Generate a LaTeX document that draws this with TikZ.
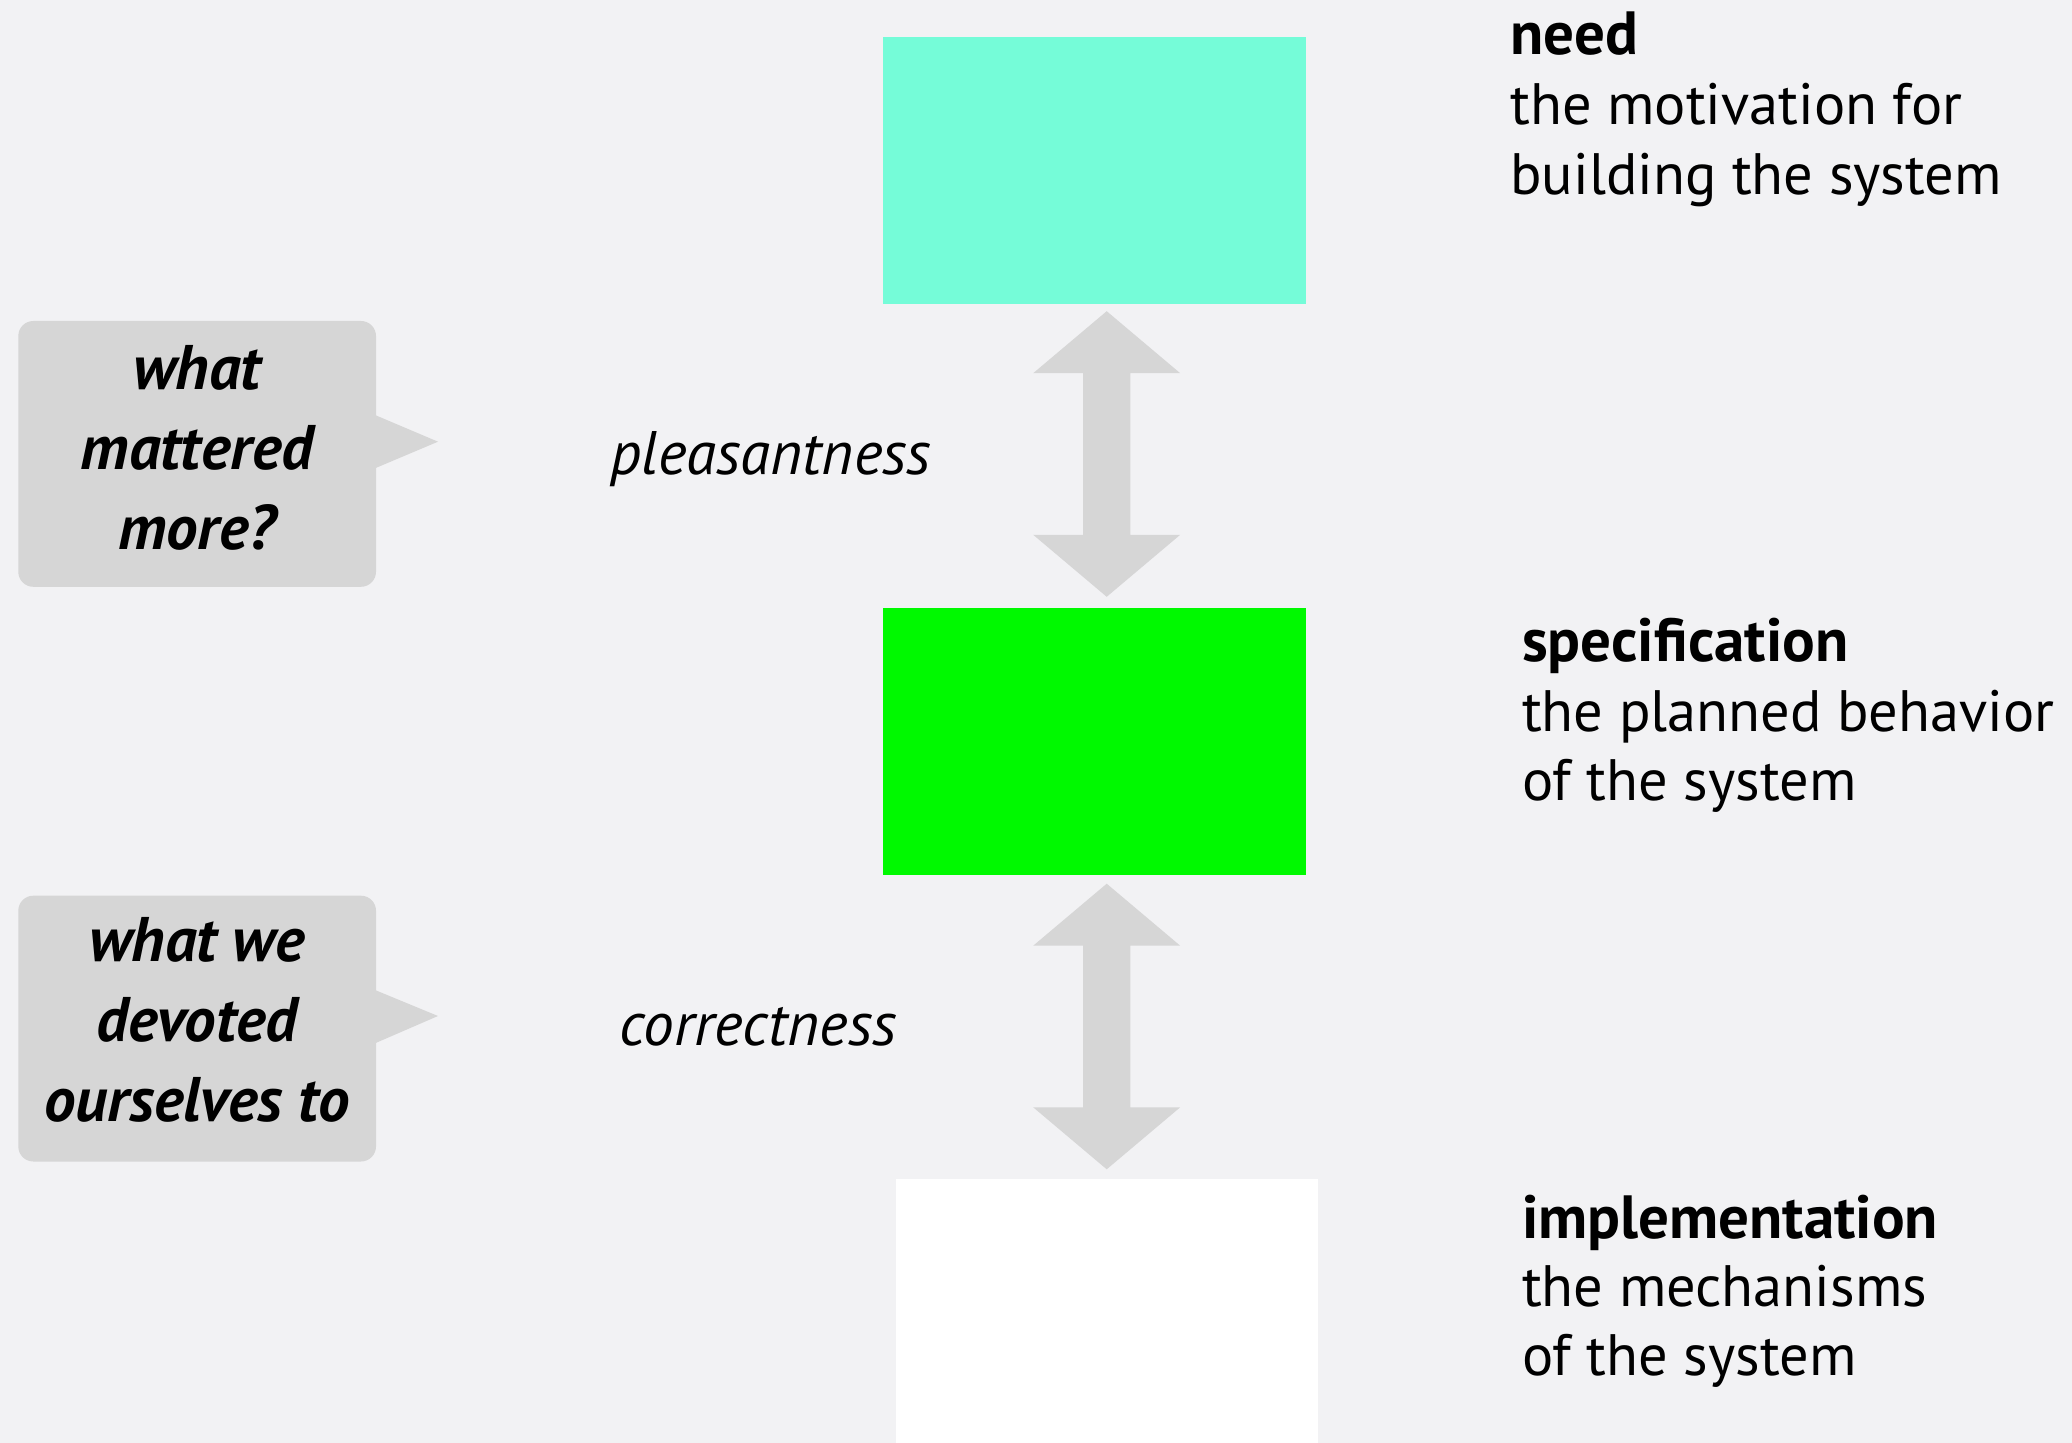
\documentclass[tikz,border=0pt]{standalone}
\usepackage{fontspec}
\setmainfont{PT Sans}
\usetikzlibrary{calc}
\definecolor{bgc}{HTML}{F2F2F4}
\definecolor{spindrift}{HTML}{75FCD8}
\definecolor{springc}{HTML}{00F900}
\definecolor{silverc}{HTML}{D6D6D6}
\tikzset{
  stagebox/.style={inner sep=0pt, outer sep=0pt, anchor=north west, minimum width=211.5pt, minimum height=133.5pt},
  qbox/.style={fill=silverc, rounded corners=7.5pt, inner sep=0pt, outer sep=0pt, anchor=north west, minimum width=178.85pt, minimum height=132.9pt},
  qtext/.style={inner sep=0pt, anchor=base, font=\fontsize{31.5pt}{40pt}\selectfont\bfseries\itshape},
  lbl/.style={inner sep=0pt, anchor=base, font=\fontsize{30.7pt}{36pt}\selectfont\itshape},
  headtxt/.style={inner sep=0pt, anchor=base west, font=\fontsize{30.5pt}{34.5pt}\selectfont\bfseries},
  desctxt/.style={inner sep=0pt, anchor=base west, font=\fontsize{29.2pt}{34.5pt}\selectfont},
  dblarr/.pic={\fill[silverc] (0,-142.8) -- (73.5,-80.8) -- (23.7,-80.8) -- (23.7,80.8) -- (73.5,80.8) -- (0,142.8) -- (-73.5,80.8) -- (-23.7,80.8) -- (-23.7,-80.8) -- (-73.5,-80.8) -- cycle;}
}
\begin{document}
\begin{tikzpicture}[x=0.5pt,y=-0.5pt]
\fill[bgc] (0,0) rectangle (2072,1443);
\useasboundingbox (0,0) rectangle (2072,1443);
% stage boxes
\node[stagebox, fill=spindrift] (need) at (883,37) {};
\node[stagebox, fill=springc] (spec) at (883,608) {};
\node[stagebox, fill=white, minimum width=211pt, minimum height=132pt] (impl) at (896,1179) {};
% double arrows
\coordinate (arr1) at (1106.7,454);
\coordinate (arr2) at (1106.7,1026.5);
\pic at (arr1) {dblarr};
\pic at (arr2) {dblarr};
% labels
\node[lbl] (pleas) at (770.8,475) {pleasantness};
\node[lbl] (corr) at (758.3,1045) {correctness};
% callouts
\node[qbox] (q1) at (18.3,321) {};
\fill[silverc] ($(q1.north east)+(-1,94)$) -- ($(q1.north east)+(62,120.7)$) -- ($(q1.north east)+(-1,147.3)$) -- cycle;
\node[qbox] (q2) at (18.3,895.7) {};
\fill[silverc] ($(q2.north east)+(-1,94.3)$) -- ($(q2.north east)+(62,120.3)$) -- ($(q2.north east)+(-1,147.6)$) -- cycle;
\node[qtext] (q1a) at (197,390) {what};
\node[qtext] (q1b) at (197,470) {mattered};
\node[qtext] (q1c) at (197,550) {more?};
\node[qtext] (q2a) at (197,961.7) {what we};
\node[qtext] (q2b) at (197,1041.7) {devoted};
\node[qtext] (q2c) at (197,1121.7) {ourselves to};
% descriptions
\node[headtxt] (needh) at (1510,55) {need};
\node[desctxt] (needd1) at (1510,125) {the motivation for};
\node[desctxt] (needd2) at (1510,195) {building the system};
\node[headtxt] (spech) at (1521.7,661.7) {specification};
\node[desctxt] (specd1) at (1521.7,731.7) {the planned behavior};
\node[desctxt] (specd2) at (1521.7,800) {of the system};
\node[headtxt] (implh) at (1521.7,1238.3) {implementation};
\node[desctxt] (impld1) at (1521.7,1306.7) {the mechanisms};
\node[desctxt] (impld2) at (1521.7,1375) {of the system};
\end{tikzpicture}
\end{document}
